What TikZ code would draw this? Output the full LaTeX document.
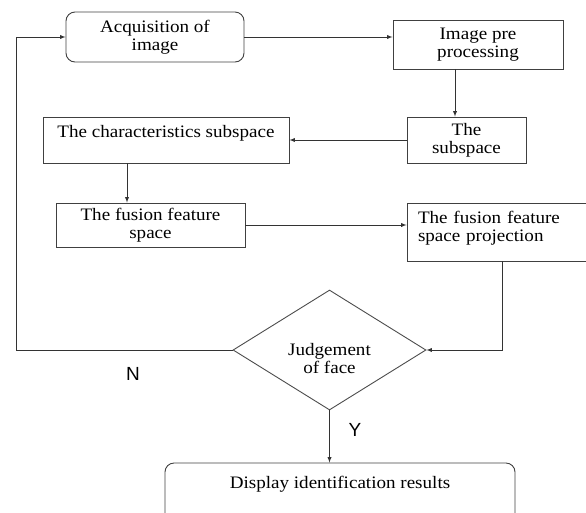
\documentclass[tikz,border=0pt]{standalone}
\usepackage{fontspec}
\setmainfont[FakeStretch=1.09]{Liberation Serif}
\newfontfamily\arialfont{Liberation Sans}
\usetikzlibrary{arrows, calc, shapes.geometric}

\begin{document}
\begin{tikzpicture}[x=1pt, y=-1pt,
  box/.style={draw=black!75, line width=0.9pt, align=center, inner sep=0pt, font=\fontsize{17.5}{18}\selectfont},
  rbox/.style={box, rounded corners=9pt},
  judgebox/.style={draw=black!70, line width=0.9pt, diamond, aspect=1.6, inner sep=0pt, minimum width=193pt, minimum height=120pt},
  flow/.style={->, >=latex, draw=black!80, line width=0.9pt},
  yn/.style={font=\arialfont\fontsize{19}{20}\selectfont}]
\useasboundingbox (0,0) rectangle (586,512);
\clip (0,0) rectangle (586,512);
\node[rbox, minimum width=178pt, minimum height=50pt] (acq) at (155,37) {Acquisition of\\image};
\node[box, minimum width=170pt, minimum height=49pt] (pre) at (478,44.5) {Image pre\\processing};
\node[box, minimum width=119pt, minimum height=46pt] (sub) at (466.5,140) {The\\subspace};
\node[box, minimum width=246pt, minimum height=46pt] (chr) at (166,140) {The characteristics subspace\\\mbox{}};
\node[box, minimum width=189pt, minimum height=44pt] (fus) at (150.5,225) {The fusion feature\\space};
\node[box, align=left, text width=181pt, inner xsep=11pt, minimum height=58pt] (proj) at (508.5,232) {The fusion feature\\space projection\\[-6pt]\mbox{}};
\node[judgebox] (judge) at (329.5,350) {};
\node[font=\fontsize{17.5}{18}\selectfont, align=center] (jtext) at (329.5,359) {Judgement\\of face};
\node[rbox, minimum width=350pt, minimum height=74pt] (disp) at (340,500) {Display identification results\\\mbox{}\\\mbox{}};
\coordinate (back) at (16,350);
% arrows
\draw[flow] (acq.east) -- (acq.east -| pre.west);
\draw[flow] ([xshift=-23pt]pre.south) -- ([xshift=-23pt]pre.south |- sub.north);
\draw[flow] (sub.west) -- (chr.east);
\draw[flow] ([xshift=-39pt]chr.south) -- ([xshift=-39pt]chr.south |- fus.north);
\draw[flow] (fus.east) -- (fus.east -| proj.west);
\draw[flow] ([xshift=-6.5pt]proj.south) |- (judge.east);
\draw[flow] (judge.west) -- (back) |- (acq.west);
\draw[flow] (judge.south) -- (judge.south |- disp.north);
\node[yn] (no) at (133,374) {N};
\node[yn] (yes) at (355,430) {Y};
\end{tikzpicture}
\end{document}
